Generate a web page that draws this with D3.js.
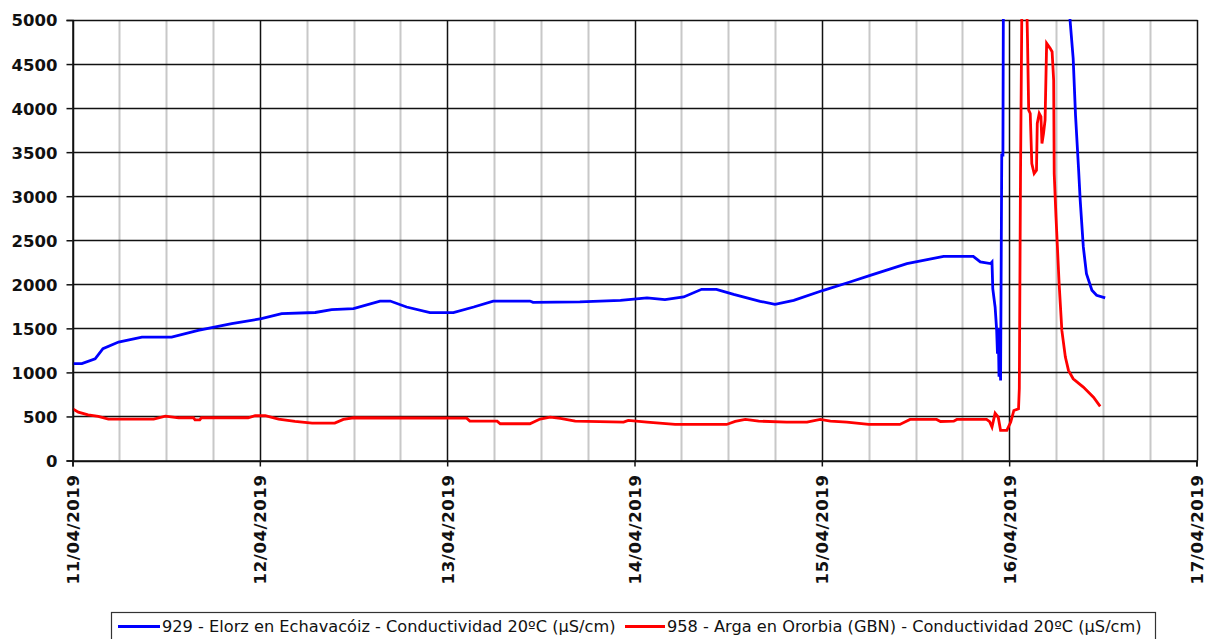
<!DOCTYPE html>
<html>
<head>
<meta charset="utf-8">
<script src="https://cdn.jsdelivr.net/npm/d3@7"></script>
<style>
  html, body { margin: 0; padding: 0; background: #fff; }
  svg { display: block; }
</style>
</head>
<body>
<svg id="chart" width="1206" height="639"></svg>
<script>
// ---- Data (hours since 11/04/2019 00:00, values in µS/cm) ----
const startDate = new Date(2019, 3, 11, 0, 0, 0);
const endDate = new Date(2019, 3, 17, 0, 0, 0);

const blueHours = [0,1.2,2.9,3.9,5.9,8.9,12.7,16.1,20.4,24.2,26.8,31.1,33.2,36,39.4,40.7,42.8,45.8,48.8,51.4,53.9,58.6,59,65,70.2,73.6,75.9,78.3,80.6,82.5,84.7,88.1,90,92.4,96.2,99.6,102.2,106.9,111.6,115.4,116.3,117.6,117.8,117.9,118.2,118.4,118.5,118.6,118.7,118.8,118.9,119.05,119.2,119.3,127.5,127.8,128.2,128.5,128.9,129.1,129.5,129.9,130.6,131.2,132.3];
const blueValues = [1100,1100,1155,1270,1345,1400,1400,1477,1553,1610,1667,1680,1712,1723,1810,1810,1742,1678,1678,1742,1810,1810,1795,1800,1818,1845,1826,1856,1943,1943,1886,1807,1773,1818,1932,2026,2102,2235,2318,2318,2254,2235,2254,1951,1742,1477,1212,1500,950,1450,909,3466,3466,6500,6500,5000,4565,3920,3295,2955,2424,2121,1932,1875,1845];

const redHours = [0,0.75,2,3.3,4.6,10.4,11.9,13.6,15.5,15.7,16.3,16.5,22.5,23.4,24.7,26.4,28.5,30.7,33.6,34.7,36,50.5,50.9,54.4,54.8,58.6,59.9,61.2,62.5,64.4,70.6,71.2,73.6,77.2,83.8,84.9,86.2,87.9,91.5,94.1,95.8,97.1,99.2,102,106,107.3,110.7,111.2,112.9,113.3,117.1,117.5,117.8,118.2,118.6,118.9,119.7,120.2,120.6,121.2,121.3,121.45,121.65,122.2,122.35,122.5,122.7,122.9,123.2,123.5,123.6,123.85,124.07,124.2,124.4,124.6,124.8,125.25,125.5,125.7,125.77,126,126.2,126.4,126.75,127.2,127.6,128.2,129.5,130.8,131.66];
const redValues = [587,549,519,500,470,470,504,485,485,462,462,485,485,508,508,470,443,424,424,466,485,480,447,447,417,417,470,492,477,447,436,455,436,409,409,443,466,447,436,436,466,447,436,409,409,466,466,443,447,466,466,440,379,538,492,341,341,436,568,587,818,3201,5400,5400,4773,3977,3939,3371,3258,3295,3826,3939,3902,3599,3712,3864,4735,4678,4640,4318,3258,2765,2386,2008,1477,1174,1023,928,833,719,614];

const yTicks = [0,500,1000,1500,2000,2500,3000,3500,4000,4500,5000];
const seriesNames = [
  "929 - Elorz en Echavacóiz - Conductividad 20ºC (µS/cm)",
  "958 - Arga en Ororbia (GBN) - Conductividad 20ºC (µS/cm)"
];
const seriesColors = ["#0000ff", "#ff0000"];

// ---- Layout ----
const svg = d3.select("#chart");
const pLeft = 72.5, pRight = 1196.5, pTop = 20, pBottom = 460.5;

const x = d3.scaleTime().domain([startDate, endDate]).range([pLeft, pRight]);
const y = d3.scaleLinear().domain([0, 5000]).range([pBottom, pTop]);

const toDate = h => new Date(startDate.getTime() + h * 3600e3);
const blue = blueHours.map((h, i) => ({ t: toDate(h), v: blueValues[i] }));
const red = redHours.map((h, i) => ({ t: toDate(h), v: redValues[i] }));

// clip
svg.append("defs").append("clipPath").attr("id", "plotclip")
  .append("rect").attr("x", pLeft).attr("y", pTop - 1).attr("width", pRight - pLeft).attr("height", pBottom - pTop + 1);

// minor vertical gridlines every 6h (gray)
const minorTicks = d3.timeHour.every(6).range(startDate, endDate).filter(d => d.getHours() !== 0);
svg.append("g").selectAll("line").data(minorTicks).join("line")
  .attr("x1", d => Math.round(x(d)) + 0.5).attr("x2", d => Math.round(x(d)) + 0.5)
  .attr("y1", pTop).attr("y2", pBottom)
  .attr("stroke", "#c8c8c8").attr("stroke-width", 2);

// major vertical gridlines (days)
const dayTicks = d3.timeDay.range(startDate, d3.timeDay.offset(endDate, 1));
svg.append("g").selectAll("line").data(dayTicks).join("line")
  .attr("x1", d => Math.round(x(d)) + 0.5).attr("x2", d => Math.round(x(d)) + 0.5)
  .attr("y1", pTop).attr("y2", pBottom)
  .attr("stroke", "#111").attr("stroke-width", 1.5);

// horizontal gridlines
svg.append("g").selectAll("line").data(yTicks).join("line")
  .attr("x1", pLeft).attr("x2", pRight + 1)
  .attr("y1", d => Math.round(y(d)) + 0.5).attr("y2", d => Math.round(y(d)) + 0.5)
  .attr("stroke", "#111").attr("stroke-width", 1.5);

// series lines
const line = d3.line().x(d => x(d.t)).y(d => y(d.v));
const lines = svg.append("g").attr("clip-path", "url(#plotclip)");
lines.append("path").datum(blue).attr("d", line)
  .attr("fill", "none").attr("stroke", seriesColors[0]).attr("stroke-width", 2.8)
  .attr("stroke-linejoin", "miter");
lines.append("path").datum(red).attr("d", line)
  .attr("fill", "none").attr("stroke", seriesColors[1]).attr("stroke-width", 2.8)
  .attr("stroke-linejoin", "miter");

// Y axis
const yAxis = d3.axisLeft(y).tickValues(yTicks).tickSize(6).tickPadding(9).tickFormat(d3.format("d"));
const gy = svg.append("g").attr("transform", `translate(${pLeft},0)`).call(yAxis);
gy.select(".domain").attr("stroke", "#111").attr("stroke-width", 1.5);
gy.selectAll(".tick line").attr("stroke", "#111").attr("stroke-width", 1.5);
gy.selectAll(".tick text")
  .attr("font-family", "DejaVu Sans, Verdana, sans-serif")
  .attr("font-weight", "bold").attr("font-size", 16.5).attr("fill", "#111")
  .attr("dy", "0.36em");

// X axis
const xAxis = d3.axisBottom(x).tickValues(dayTicks).tickSize(6).tickFormat(d3.timeFormat("%d/%m/%Y"));
const gx = svg.append("g").attr("transform", `translate(0,${pBottom})`).call(xAxis);
gx.select(".domain").attr("stroke", "#111").attr("stroke-width", 1.5);
gx.selectAll(".tick line").attr("stroke", "#111").attr("stroke-width", 1.5);
gx.selectAll(".tick text")
  .attr("font-family", "DejaVu Sans, Verdana, sans-serif")
  .attr("font-weight", "bold").attr("font-size", 16.5).attr("fill", "#111")
  .attr("text-anchor", "end")
  .attr("transform", "rotate(-90)")
  .attr("x", -14).attr("y", 0).attr("dy", "0.36em")
  .attr("letter-spacing", "0.6px");

// Legend
const legend = svg.append("g");
legend.append("rect").attr("x", 111.5).attr("y", 612.5).attr("width", 1044).attr("height", 30)
  .attr("fill", "#fff").attr("stroke", "#333").attr("stroke-width", 1.2);
const legendItems = [
  { x0: 118, x1: 160, tx: 162 },
  { x0: 625, x1: 665, tx: 667 }
];
legendItems.forEach((it, i) => {
  legend.append("line").attr("x1", it.x0).attr("x2", it.x1).attr("y1", 626.5).attr("y2", 626.5)
    .attr("stroke", seriesColors[i]).attr("stroke-width", 3);
  legend.append("text").attr("x", it.tx).attr("y", 626).attr("dy", "0.36em")
    .attr("font-family", "DejaVu Sans, Verdana, sans-serif").attr("font-size", 16.2).attr("fill", "#111")
    .text(seriesNames[i]);
});
</script>
</body>
</html>
